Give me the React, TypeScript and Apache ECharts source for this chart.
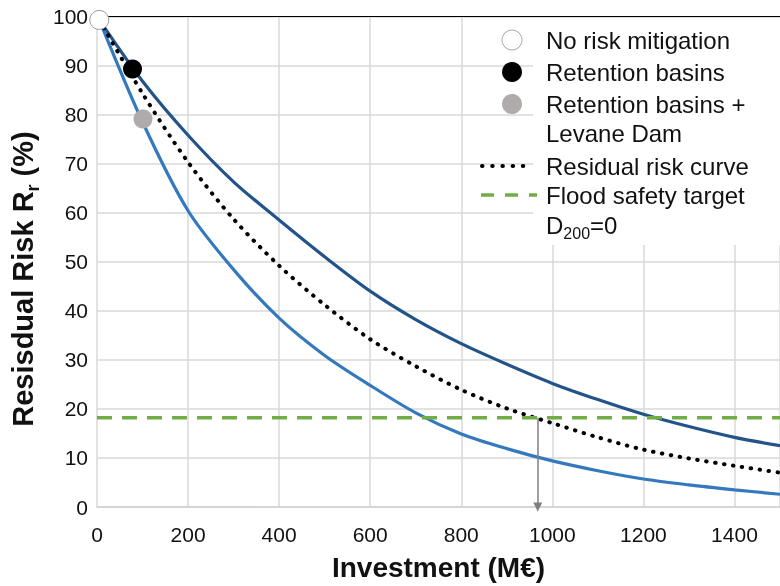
import React, { useEffect, useRef } from "react";
import * as echarts from "echarts";

const FONT = '"Liberation Sans", Arial, sans-serif';

// x positions (M€) at which the curves were read
const curveInvestment = [5, 100, 200, 300, 400, 500, 600, 700, 800, 900, 1000, 1100, 1200, 1300, 1400, 1500];
// upper (dark blue) curve, Rr %
const upperCurve = [99.3, 86.8, 75.8, 66.3, 58.5, 51.0, 44.0, 38.2, 33.3, 29.1, 25.2, 21.9, 18.9, 16.4, 14.2, 12.5];
// lower (light blue) curve, Rr %
const lowerCurve = [99.3, 78.5, 60.4, 48.4, 38.5, 30.9, 24.8, 19.2, 14.9, 11.9, 9.4, 7.4, 5.7, 4.5, 3.5, 2.6];
// residual risk curve (dotted), Rr %
const residualCurve = [99.3, 84.3, 70.3, 58.7, 49.2, 41.2, 34.2, 28.7, 23.9, 20.1, 17.1, 14.2, 11.7, 9.9, 8.4, 7.0];

// flood safety target
const targetInvestment = [0, 1500];
const targetRisk = 18.2;
const targetCrossing = 968;

// scenario points [investment, Rr]
const noMitigation = [5, 99.3];
const retentionBasins = [78, 89.3];
const basinsPlusDam = [101, 79.1];

const legendNames = [
  "No risk mitigation",
  "Retention basins",
  "Retention basins +\nLevane Dam",
  "Residual risk curve",
  "Flood safety target\nD200=0",
];

const xTicks = { min: 0, max: 1500, interval: 200 };
const yTicks = { min: 0, max: 100, interval: 10 };

const pairs = (xs: number[], ys: number[]) => xs.map((x, i) => [x, ys[i]]);

export default function App() {
  const ref = useRef<HTMLDivElement>(null);
  useEffect(() => {
    document.body.style.margin = "0";
    const chart = echarts.init(ref.current!, null, { renderer: "svg" });
    const txt = "#111";
    const lx = 512;
    const tx = 546;
    const rows = [40, 72, 104, 133, 166, 195, 225];
    const textEl = (text: string, y: number, extra: any = {}) => ({
      type: "text",
      z: 101,
      x: tx,
      y,
      style: {
        text,
        fontSize: 24,
        fontFamily: FONT,
        fill: txt,
        align: "left",
        verticalAlign: "middle",
        textAlign: "left",
        textVerticalAlign: "middle",
        ...extra,
      },
    });
    chart.setOption({
      animation: false,
      textStyle: { fontFamily: FONT },
      grid: { left: 97, top: 16.5, right: -8, bottom: 77, containLabel: false },
      xAxis: [
        {
          type: "value",
          ...xTicks,
          axisLine: { show: true, lineStyle: { color: "#d0d0d0", width: 1.5 } },
          axisTick: { show: false },
          axisLabel: {
            fontSize: 21,
            color: txt,
            margin: 17,
            showMaxLabel: false,
            fontFamily: FONT,
            formatter: (v: number) => String(v),
          },
          splitLine: { show: true, lineStyle: { color: "#d9d9d9", width: 1.5 } },
          name: "Investment (M€)",
          nameLocation: "middle",
          nameGap: 46,
          nameTextStyle: { fontSize: 28, fontWeight: "bold", color: txt, fontFamily: FONT },
        },
        {
          type: "value",
          position: "top",
          ...xTicks,
          axisLine: { show: true, onZero: false, lineStyle: { color: "#000", width: 1 } },
          axisTick: { show: false },
          axisLabel: { show: false },
          splitLine: { show: false },
        },
      ],
      yAxis: {
        type: "value",
        ...yTicks,
        axisLine: { show: false },
        axisTick: { show: false },
        axisLabel: { fontSize: 21, color: txt, margin: 9, fontFamily: FONT },
        splitLine: { show: true, lineStyle: { color: "#d9d9d9", width: 1.5 } },
      },
      series: [
        {
          name: "Upper curve",
          type: "line",
          data: pairs(curveInvestment, upperCurve),
          smooth: 0.3,
          showSymbol: false,
          lineStyle: { color: "#22548a", width: 3.2 },
          z: 2,
        },
        {
          name: "Lower curve",
          type: "line",
          data: pairs(curveInvestment, lowerCurve),
          smooth: 0.3,
          showSymbol: false,
          lineStyle: { color: "#3479be", width: 3.2 },
          z: 2,
        },
        {
          name: legendNames[3],
          type: "line",
          data: pairs(curveInvestment, residualCurve),
          smooth: 0.3,
          showSymbol: false,
          lineStyle: { color: "#000", width: 4, type: [0.5, 8.5], cap: "round" },
          z: 3,
        },
        {
          name: legendNames[4],
          type: "line",
          data: targetInvestment.map((x) => [x, targetRisk]),
          showSymbol: false,
          lineStyle: { color: "#70ad47", width: 3.5, type: [15, 10] },
          z: 3,
          markLine: {
            silent: true,
            symbol: ["none", "triangle"],
            symbolSize: 9,
            label: { show: false },
            lineStyle: { color: "#7f7f7f", width: 1.5, type: "solid" },
            data: [[{ coord: [targetCrossing, targetRisk] }, { coord: [targetCrossing, 0] }]],
          },
        },
        {
          name: legendNames[0],
          type: "scatter",
          data: [noMitigation],
          symbolSize: 19,
          itemStyle: { color: "#fff", borderColor: "#999", borderWidth: 1, opacity: 1 },
          z: 5,
        },
        {
          name: legendNames[1],
          type: "scatter",
          data: [retentionBasins],
          symbolSize: 19,
          itemStyle: { color: "#000", opacity: 1 },
          z: 5,
        },
        {
          name: legendNames[2],
          type: "scatter",
          data: [basinsPlusDam],
          symbolSize: 19,
          itemStyle: { color: "#afabab", opacity: 1 },
          z: 5,
        },
      ],
      graphic: [
        { type: "rect", z: 100, shape: { x: 533, y: 18, width: 260, height: 227 }, style: { fill: "#fff" } },
        { type: "circle", z: 101, shape: { cx: lx, cy: rows[0], r: 10 }, style: { fill: "#fff", stroke: "#a6a6a6", lineWidth: 1 } },
        { type: "circle", z: 101, shape: { cx: lx, cy: rows[1], r: 10 }, style: { fill: "#000" } },
        { type: "circle", z: 101, shape: { cx: lx, cy: rows[2], r: 10 }, style: { fill: "#afabab" } },
        {
          type: "line",
          z: 101,
          shape: { x1: 482, y1: rows[4], x2: 533, y2: rows[4] },
          style: { stroke: "#000", lineWidth: 4, lineDash: [0.5, 9.7], lineCap: "round" },
        },
        {
          type: "line",
          z: 101,
          shape: { x1: 481, y1: rows[5], x2: 537, y2: rows[5] },
          style: { stroke: "#70ad47", lineWidth: 3.5, lineDash: [13, 11] },
        },
        textEl(legendNames[0], rows[0]),
        textEl(legendNames[1], rows[1]),
        textEl("Retention basins +", rows[2]),
        textEl("Levane Dam", rows[3]),
        textEl(legendNames[3], rows[4]),
        textEl("Flood safety target", rows[5]),
        textEl("D{sub|200}=0", rows[6], {
          rich: { sub: { fontSize: 16, fontFamily: FONT, fill: txt, verticalAlign: "bottom", padding: [0, 0, -4, 0] } },
        }),
        {
          type: "text",
          z: 101,
          x: 23,
          y: 279,
          rotation: Math.PI / 2,
          style: {
            text: "Resisdual Risk R{sub|r} (%)",
            fontSize: 29,
            fontWeight: "bold",
            fontFamily: FONT,
            fill: txt,
            align: "center",
            verticalAlign: "middle",
            textAlign: "center",
            textVerticalAlign: "middle",
            rich: { sub: { fontSize: 18, fontWeight: "bold", fontFamily: FONT, fill: txt, verticalAlign: "bottom", padding: [0, 0, -4, 0] } },
          },
        },
      ],
    });
    return () => chart.dispose();
  }, []);
  return <div ref={ref} style={{ position: "fixed", left: 0, top: 0, width: 780, height: 586 }} />;
}
